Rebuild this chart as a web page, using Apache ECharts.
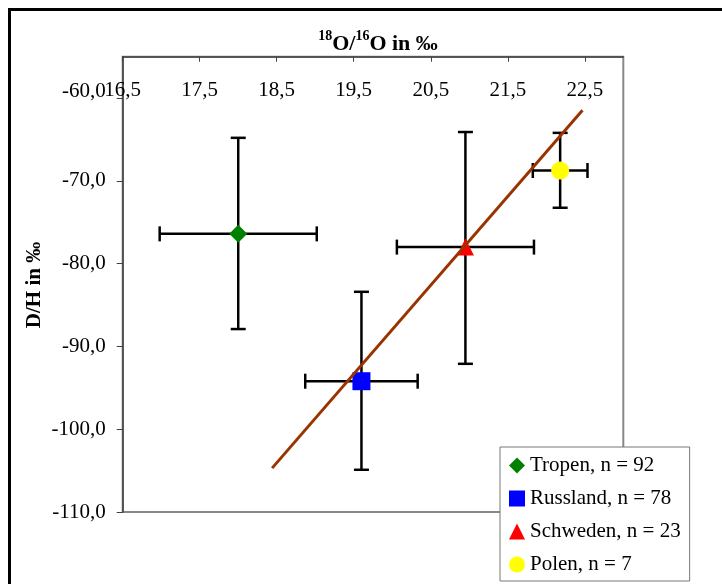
<!DOCTYPE html>
<html>
<head>
<meta charset="utf-8">
<script src="https://cdn.jsdelivr.net/npm/echarts@6/dist/echarts.min.js"></script>
<style>html,body{margin:0;padding:0;background:#fff}#c{width:722px;height:584px}</style>
</head>
<body>
<div id="c"></div>
<script>
// ---- data ----
var groupNames = ['Tropen, n = 92', 'Russland, n = 78', 'Schweden, n = 23', 'Polen, n = 7'];
var groupSymbols = ['diamond', 'rect', 'triangle', 'circle'];
var groupColors = ['#008000', '#0000FF', '#FF0000', '#FFFF00'];
var o18Values = [18.0, 19.6, 20.95, 22.18];      // x: 18O/16O
var dhValues = [-76.4, -94.2, -78.0, -68.75];      // y: D/H
var o18Err = [1.02, 0.73, 0.89, 0.355];
var dhErrPlus = [11.6, 10.8, 13.9, 4.55];
var dhErrMinus = [11.5, 10.7, 14.1, 4.5];
var trendX = [18.44, 22.47];
var trendY = [-104.7, -61.46];
var xTicks = [16.5, 17.5, 18.5, 19.5, 20.5, 21.5, 22.5];
var yTicks = [-110, -100, -90, -80, -70, -60];

var FONT = '"Liberation Serif", "Times New Roman", serif';
function fmt(v) { return v.toFixed(1).replace('.', ','); }

var errData = o18Values.map(function (x, i) {
  return [x, dhValues[i], x - o18Err[i], x + o18Err[i], dhValues[i] - dhErrMinus[i], dhValues[i] + dhErrPlus[i]];
});

var series = [{
  type: 'custom',
  z: 2,
  silent: true,
  data: errData,
  renderItem: function (params, api) {
    var x = api.value(0), y = api.value(1);
    var pl = api.coord([api.value(2), y]);
    var pr = api.coord([api.value(3), y]);
    var pt = api.coord([x, api.value(5)]);
    var pb = api.coord([x, api.value(4)]);
    var c = 7.5;
    var st = { stroke: '#000', lineWidth: 2.5 };
    return {
      type: 'group',
      children: [
        { type: 'line', shape: { x1: pl[0], y1: pl[1], x2: pr[0], y2: pr[1] }, style: st },
        { type: 'line', shape: { x1: pt[0], y1: pt[1], x2: pb[0], y2: pb[1] }, style: st },
        { type: 'line', shape: { x1: pl[0], y1: pl[1] - c, x2: pl[0], y2: pl[1] + c }, style: st },
        { type: 'line', shape: { x1: pr[0], y1: pr[1] - c, x2: pr[0], y2: pr[1] + c }, style: st },
        { type: 'line', shape: { x1: pt[0] - c, y1: pt[1], x2: pt[0] + c, y2: pt[1] }, style: st },
        { type: 'line', shape: { x1: pb[0] - c, y1: pb[1], x2: pb[0] + c, y2: pb[1] }, style: st }
      ]
    };
  }
}];

groupNames.forEach(function (n, i) {
  series.push({
    type: 'scatter',
    name: n,
    z: 3,
    symbol: groupSymbols[i],
    symbolSize: i === 2 ? [17, 17] : 18,
    itemStyle: { color: groupColors[i], opacity: 1 },
    data: [[o18Values[i], dhValues[i]]]
  });
});

series.push({
  type: 'line',
  name: 'trend',
  z: 4,
  silent: true,
  symbol: 'none',
  lineStyle: { color: '#993300', width: 3 },
  data: trendX.map(function (x, i) { return [x, trendY[i]]; })
});

var chart = echarts.init(document.getElementById('c'), null, { renderer: 'canvas' });
chart.setOption({
  animation: false,
  backgroundColor: '#fff',
  title: {
    text: '{s|18}{b|O/}{s|16}{b|O in ‰}',
    left: 373,
    top: 24,
    textAlign: 'center',
    textStyle: {
      rich: {
        b: { fontFamily: FONT, fontWeight: 'bold', fontSize: 22, color: '#000', lineHeight: 26, verticalAlign: 'bottom' },
        s: { fontFamily: FONT, fontWeight: 'bold', fontSize: 14, color: '#000', lineHeight: 26, verticalAlign: 'top', padding: [0, 0, 0, 0] }
      }
    }
  },
  graphic: [
    { type: 'rect', z: 100, silent: true, shape: { x: 9.5, y: 9.5, width: 730, height: 600 }, style: { fill: 'none', stroke: '#000', lineWidth: 3 } },
    { type: 'text', z: 100, x: 35, y: 285, rotation: Math.PI / 2,
      style: { text: 'D/H in ‰', font: 'bold 21px ' + FONT, fill: '#000', textAlign: 'center', textVerticalAlign: 'middle' } }
  ],
  grid: {
    left: 122.7, top: 56.7, right: 98.7, bottom: 72,
    show: true, borderColor: '#888', borderWidth: 2, backgroundColor: '#fff'
  },
  legend: {
    data: groupNames,
    orient: 'vertical',
    left: 500, top: 447,
    padding: [8, 9, 6, 9],
    itemGap: 12,
    itemWidth: 16, itemHeight: 16,
    backgroundColor: '#fff',
    borderColor: '#777', borderWidth: 1,
    borderRadius: 0,
    textStyle: { fontFamily: FONT, fontSize: 21, color: '#000' },
    z: 10
  },
  xAxis: {
    type: 'value',
    position: 'top',
    min: 16.5, max: 23, interval: 1,
    axisLine: { show: true, lineStyle: { color: '#404040', width: 1.5 } },
    axisTick: { show: true, inside: true, length: 5, customValues: xTicks, lineStyle: { color: '#404040', width: 1 } },
    axisLabel: { inside: true, margin: 23, customValues: xTicks, formatter: fmt, fontFamily: FONT, fontSize: 21, color: '#000' },
    splitLine: { show: false }
  },
  yAxis: {
    type: 'value',
    min: -110, max: -55, interval: 10,
    axisLine: { show: true, lineStyle: { color: '#404040', width: 1.5 } },
    axisTick: { show: true, inside: false, length: 6, customValues: yTicks, lineStyle: { color: '#404040', width: 1 } },
    axisLabel: {
      margin: 17, customValues: yTicks,
      formatter: function (v) { return v === -60 ? '{t|' + fmt(v) + '}' : fmt(v); },
      fontFamily: FONT, fontSize: 21, color: '#000',
      rich: { t: { fontFamily: FONT, fontSize: 21, color: '#000', padding: [0, 0, 14, 0] } }
    },
    splitLine: { show: false }
  },
  series: series
});
</script>
</body>
</html>
